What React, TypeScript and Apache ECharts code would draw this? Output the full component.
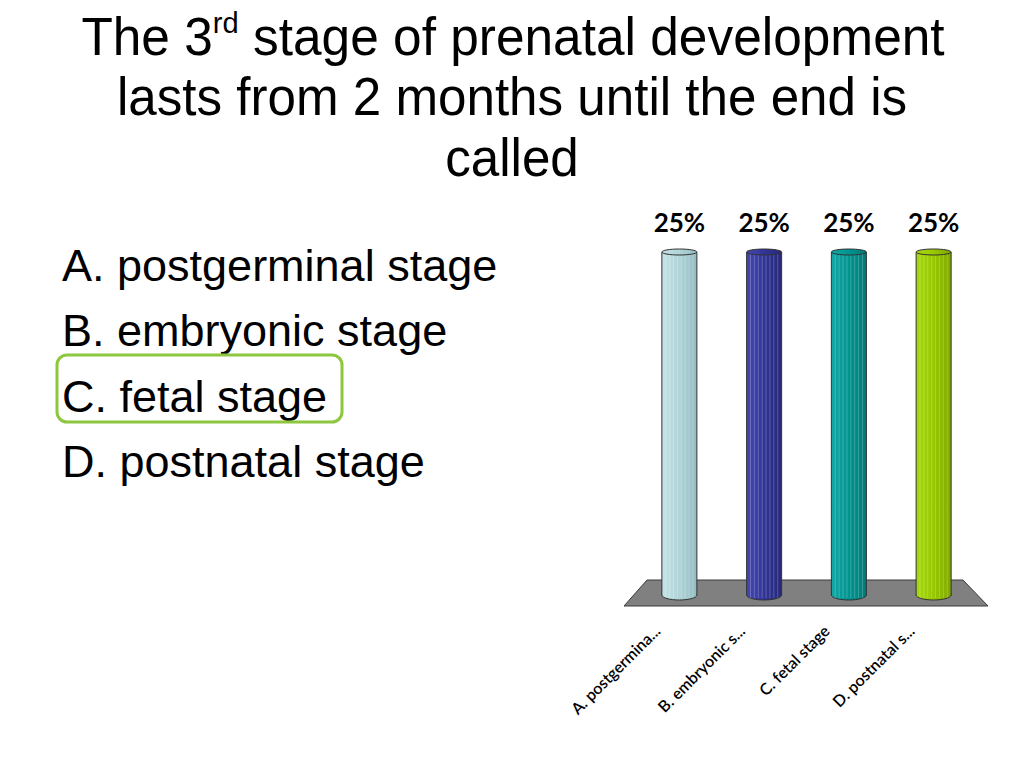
import React, { useEffect, useRef } from "react";
import * as echarts from "echarts";

const categories = ["A. postgermina...", "B. embryonic s...", "C. fetal stage", "D. postnatal s..."];
const values = [25, 25, 25, 25];
const barColors = [
  ["#c4e3e6", "#b0d4d8", "#93bcc0"],
  ["#4448b0", "#323597", "#262878"],
  ["#10a8a6", "#00948f", "#007a78"],
  ["#a6d810", "#97c800", "#80a800"],
];
const answers = ["A. postgerminal stage", "B. embryonic stage", "C. fetal stage", "D. postnatal stage"];

export default function App() {
  const ref = useRef<HTMLDivElement>(null);
  useEffect(() => {
    if (!ref.current) return;
    const chart = echarts.init(ref.current, null, { renderer: "svg" });
    const font = "'Liberation Sans', Arial, sans-serif";
    const titleSize = 53;
    const listSize = 45;
    const graphics: any[] = [
      {
        type: "text",
        x: 513,
        y: 37,
        scaleX: 0.97,
        style: {
          text: "{n|The 3}{s|rd}{n| stage of prenatal development}",
          align: "center",
          verticalAlign: "middle",
          rich: {
            n: { fontSize: titleSize, fontFamily: font, fill: "#000", lineHeight: 60 },
            s: { fontSize: 30, fontFamily: font, fill: "#000", verticalAlign: "top", lineHeight: 60, padding: [0, 0, 20, 0] },
          },
        },
      },
      {
        type: "text",
        x: 512,
        y: 97,
        scaleX: 0.965,
        style: { text: "lasts from 2 months until the end is", fontSize: titleSize, fontFamily: font, fill: "#000", align: "center", verticalAlign: "middle" },
      },
      {
        type: "text",
        x: 512,
        y: 158,
        scaleX: 0.965,
        style: { text: "called", fontSize: titleSize, fontFamily: font, fill: "#000", align: "center", verticalAlign: "middle" },
      },
      ...answers.map((a, i) => ({
        type: "text",
        x: 62,
        y: 265 + i * 65.5,
        style: { text: a, fontSize: listSize, fontFamily: font, fill: "#000", align: "left", verticalAlign: "middle" },
      })),
      {
        type: "rect",
        shape: { x: 57, y: 355, width: 285, height: 67, r: 10 },
        style: { fill: "none", stroke: "#8dc63f", lineWidth: 3 },
      },
      {
        type: "polygon",
        z: 0,
        shape: { points: [[647, 580], [963, 580], [988, 606], [624, 606]] },
        style: { fill: "#808080", stroke: "#3a3a3a", lineWidth: 1 },
      },
    ];

    chart.setOption({
      animation: false,
      graphic: graphics,
      grid: { left: 637, right: 48, top: 250, bottom: 171, containLabel: false },
      xAxis: {
        type: "category",
        data: categories,
        axisLine: { show: false },
        axisTick: { show: false },
        axisLabel: {
          rotate: 45,
          margin: 8,
          padding: [0, 32, 0, 0],
          fontFamily: "Lato, 'Open Sans', sans-serif",
          fontSize: 16,
          fontWeight: 600,
          color: "#000",
          interval: 0,
        },
      },
      yAxis: { type: "value", min: 0, max: 25, show: false, splitLine: { show: false } },
      series: [
        {
          type: "custom",
          z: 3,
          data: values.map((v, i) => [i, v]),
          encode: { x: 0, y: 1 },
          renderItem: (params: any, api: any) => {
            const idx = api.value(0);
            const val = api.value(1);
            const top = api.coord([idx, val]);
            const base = api.coord([idx, 0]);
            const w = api.size([1, 0])[0] * 0.413;
            const cx = top[0];
            const x0 = cx - w / 2;
            const c = barColors[idx];
            const grad = new echarts.graphic.LinearGradient(0, 0, 1, 0, [
              { offset: 0, color: c[0] },
              { offset: 0.5, color: c[1] },
              { offset: 1, color: c[2] },
            ]);
            const stripes: any[] = [];
            for (let k = 1; k < 9; k++) {
              const sx = x0 + (w * k) / 9;
              stripes.push({
                type: "line",
                shape: { x1: sx, y1: top[1] + 4, x2: sx, y2: base[1] + 1 },
                style: { stroke: "rgba(255,255,255,0.22)", lineWidth: 1 },
              });
            }
            return {
              type: "group",
              children: [
                {
                  type: "ellipse",
                  shape: { cx, cy: base[1] - 2, rx: w / 2, ry: 5 },
                  style: { fill: grad, stroke: "#333", lineWidth: 1 },
                },
                {
                  type: "rect",
                  shape: { x: x0, y: top[1] + 2, width: w, height: base[1] - top[1] - 4 },
                  style: { fill: grad },
                },
                ...stripes,
                { type: "line", shape: { x1: x0, y1: top[1] + 2, x2: x0, y2: base[1] - 2 }, style: { stroke: "#333", lineWidth: 1 } },
                { type: "line", shape: { x1: x0 + w, y1: top[1] + 2, x2: x0 + w, y2: base[1] - 2 }, style: { stroke: "#333", lineWidth: 1 } },
                {
                  type: "ellipse",
                  shape: { cx, cy: top[1] + 2, rx: w / 2, ry: 3 },
                  style: { fill: grad, stroke: "#333", lineWidth: 1 },
                },
                {
                  type: "text",
                  x: cx,
                  y: top[1] - 28,
                  style: {
                    text: val + "%",
                    fontFamily: "Lato, 'Open Sans', sans-serif",
                    fontWeight: "bold",
                    fontSize: 26,
                    fill: "#000",
                    align: "center",
                    verticalAlign: "middle",
                  },
                },
              ],
            };
          },
        },
      ],
    });
    return () => chart.dispose();
  }, []);
  return <div ref={ref} style={{ position: "fixed", left: 0, top: 0, width: 1024, height: 768, background: "#fff" }} />;
}
